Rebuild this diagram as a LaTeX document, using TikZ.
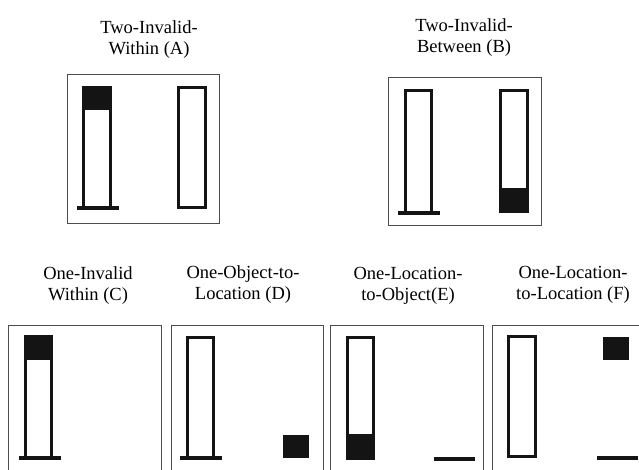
\documentclass[tikz,border=0pt]{standalone}
\usepackage{fontspec}
\setmainfont{Liberation Serif}
\newfontfamily\tms{Liberation Serif}
\begin{document}
\begin{tikzpicture}[x=1pt,y=-1pt,
  frame/.style={draw=black!70,line width=1pt},
  tube/.style={draw=black!92,line width=3pt},
  blk/.style={fill=black!92},
  baseline/.style={draw=black!92,line width=4pt},
  lbl/.style={align=center,inner sep=0pt,font=\tms\fontsize{18.5}{21}\selectfont}]
\useasboundingbox (0,0) rectangle (639,469);
% ---------- A ----------
\draw[frame] (67,74) rectangle (219,223);
\fill[blk] (82,86) rectangle (112,110);
\draw[tube] (83.5,87.5) rectangle (110.5,207);
\draw[baseline] (77,208) -- (119,208);
\draw[tube] (178.5,87.5) rectangle (205.5,207.5);
\node[lbl] (la) at (149,40) {Two-Invalid-\\Within (A)};
% ---------- B ----------
\draw[frame] (388,77) rectangle (541,225);
\draw[tube] (405.5,90.5) rectangle (431.5,212);
\draw[baseline] (398,213) -- (440,213);
\fill[blk] (499,188) rectangle (529,213);
\draw[tube] (500.5,90.5) rectangle (527.5,211.5);
\node[lbl] (lb) at (464,38) {Two-Invalid-\\Between (B)};
% ---------- C ----------
\draw[frame] (8,470) -- (8,325) -- (161,325) -- (161,470);
\fill[blk] (24,335) rectangle (53,360);
\draw[tube] (25.5,336.5) rectangle (51.5,457);
\draw[baseline] (19,458) -- (61,458);
\node[lbl] (lc) at (88,286) {One-Invalid\\Within (C)};
% ---------- D ----------
\draw[frame] (171,470) -- (171,325) -- (323,325) -- (323,470);
\draw[tube] (187.5,337.5) rectangle (213.5,457);
\draw[baseline] (180,458) -- (222,458);
\fill[blk] (283,435) rectangle (309,458);
\node[lbl] (ld) at (243,285) {One-Object-to-\\Location (D)};
% ---------- E ----------
\draw[frame] (330,470) -- (330,325) -- (483,325) -- (483,470);
\fill[blk] (346,434) rectangle (375,460);
\draw[tube] (347.5,337.5) rectangle (373.5,458.5);
\draw[baseline] (434,459) -- (475,459);
\node[lbl] (le) at (408,286) {One-Location-\\to-Object(E)};
% ---------- F ----------
\draw[frame] (492,470) -- (492,325) -- (641,325);
\draw[tube] (508.5,336.5) rectangle (535.5,456.5);
\fill[blk] (603,337) rectangle (629,360);
\draw[baseline] (597,458) -- (638,458);
\node[lbl] (lf) at (573,285) {One-Location-\\to-Location (F)};
\end{tikzpicture}
\end{document}
